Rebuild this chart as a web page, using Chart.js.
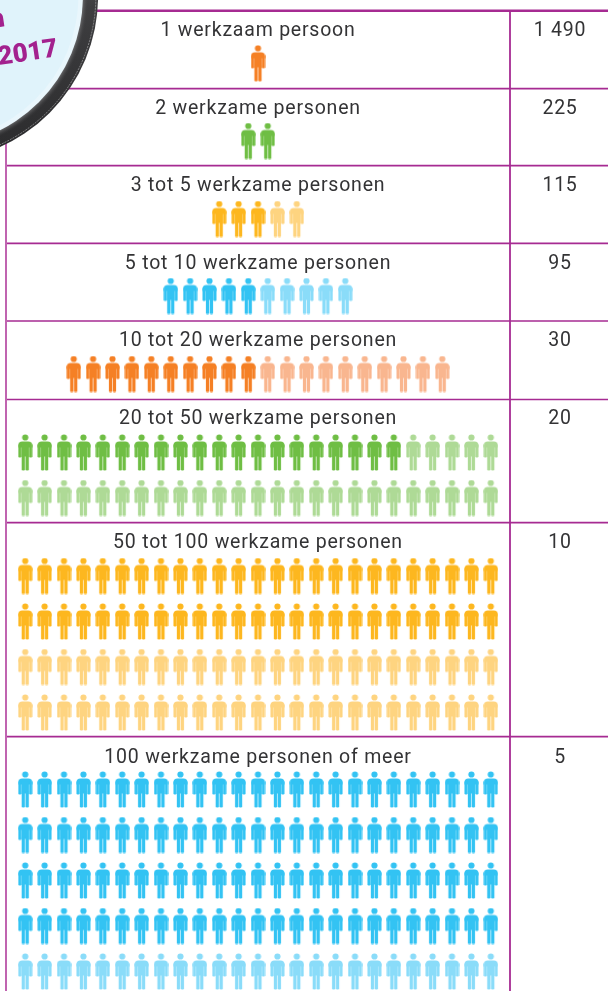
<!DOCTYPE html>
<html><head><meta charset="utf-8">
<style>html,body{margin:0;padding:0;background:#fff}canvas{display:block}</style>
<script src="https://cdn.jsdelivr.net/npm/chart.js@4"></script>
</head><body>
<canvas id="c" width="611" height="991"></canvas>
<script>
// ---- data ----
const categories = ["1 werkzaam persoon","2 werkzame personen","3 tot 5 werkzame personen","5 tot 10 werkzame personen","10 tot 20 werkzame personen","20 tot 50 werkzame personen","50 tot 100 werkzame personen","100 werkzame personen of meer"];
const companies = ["1 490","225","115","95","30","20","10","5"];
const darkIcons = [1,2,3,5,10,20,50,100];
const lightIcons = [0,0,2,5,10,30,50,25];
// ---- layout & style ----
const darkColors = ["#f58025","#6fbe44","#fdb71f","#33c3f3","#f58025","#6fbe44","#fdb71f","#33c3f3"];
const lightColors = ["#f9b68f","#aeda96","#fed480","#8adcf9","#f9b68f","#aeda96","#fed480","#8adcf9"];
const ruleY = [10.7,88.7,165.7,243.3,321,399.5,522.7,736.7];
const labelBase = [36,114,191,268.5,346,424,547.5,763];
const firstIconY = [63.3,141,219,296,374,452.5,576,789.5];
const pitchX = 19.4, pitchY = 45.5, perRow = 25, midX = 258, valueX = 560;
const W = 611, H = 991;

function personIcon(color){
  const c = document.createElement('canvas'); c.width = 15; c.height = 37;
  const g = c.getContext('2d'); g.fillStyle = color; g.translate(0.5,0.5);
  g.beginPath(); g.arc(7,3,3.1,0,Math.PI*2); g.fill();
  g.beginPath(); g.roundRect(0,7,14,6,[4,4,0,0]); g.fill();
  g.beginPath(); g.roundRect(0,10,3.2,13,[0,0,1.2,1.2]); g.fill();
  g.beginPath(); g.roundRect(10.8,10,3.2,13,[0,0,1.2,1.2]); g.fill();
  g.fillRect(3.4,10,7.2,12);
  g.beginPath(); g.roundRect(3.4,20,3.3,16,[0,0,1.3,1.3]); g.fill();
  g.beginPath(); g.roundRect(7.3,20,3.3,16,[0,0,1.3,1.3]); g.fill();
  return c;
}
function iconPoint(row,index,total){
  const inRow = Math.min(total,perRow);
  const r = Math.floor(index/perRow), col = index%perRow;
  return {x: midX+(col-(inRow-1)/2)*pitchX, y: firstIconY[row]+r*pitchY};
}
const datasets = [];
categories.forEach((_,row)=>{
  const total = darkIcons[row]+lightIcons[row];
  const dark=[], light=[];
  for(let i=0;i<total;i++) (i<darkIcons[row]?dark:light).push(iconPoint(row,i,total));
  datasets.push({label:categories[row],data:dark,pointStyle:personIcon(darkColors[row]),pointRadius:18,showLine:false,clip:false});
  if(light.length) datasets.push({label:categories[row]+" (licht)",data:light,pointStyle:personIcon(lightColors[row]),pointRadius:18,showLine:false,clip:false});
});

const tablePlugin = {
  id:'table',
  beforeDatasetsDraw(chart){
    const {ctx,scales:{x,y}} = chart;
    const rule='#a62b92';
    ctx.save();
    const h=(y0,x0,x1,lw)=>{ctx.strokeStyle=rule;ctx.lineWidth=lw;ctx.beginPath();ctx.moveTo(x.getPixelForValue(x0),y.getPixelForValue(y0));ctx.lineTo(x.getPixelForValue(x1),y.getPixelForValue(y0));ctx.stroke();};
    ruleY.forEach((v,i)=>h(v,5,608,i==0?2.6:1.7));
    ctx.strokeStyle='#c064b0';ctx.lineWidth=2;
    ctx.beginPath();ctx.moveTo(x.getPixelForValue(6),y.getPixelForValue(100));ctx.lineTo(x.getPixelForValue(6),y.getPixelForValue(H));ctx.stroke();
    ctx.strokeStyle=rule;ctx.lineWidth=1.8;
    ctx.beginPath();ctx.moveTo(x.getPixelForValue(510),y.getPixelForValue(10));ctx.lineTo(x.getPixelForValue(510),y.getPixelForValue(H));ctx.stroke();
    // text
    ctx.fillStyle='#333335';ctx.font='400 19.5px Roboto';ctx.textAlign='center';ctx.textBaseline='alphabetic';
    ctx.letterSpacing='0.78px';
    categories.forEach((t,i)=>{
      ctx.fillText(t,x.getPixelForValue(midX),y.getPixelForValue(labelBase[i]));
      ctx.fillText(companies[i],x.getPixelForValue(valueX),y.getPixelForValue(labelBase[i]));
    });
    ctx.letterSpacing='0px';
    // badge
    const cx=x.getPixelForValue(-67.6),cy=y.getPixelForValue(-4.2),R=165.7;
    let grad=ctx.createLinearGradient(cx+60,cy-40,cx+90,cy+150);
    grad.addColorStop(0,'#5c5c5e');grad.addColorStop(0.35,'#3e3e40');grad.addColorStop(1,'#2c2c2e');
    ctx.fillStyle=grad;ctx.beginPath();ctx.arc(cx,cy,R,0,Math.PI*2);ctx.fill();
    let rg=ctx.createRadialGradient(cx,cy,149,cx,cy,156);
    rg.addColorStop(0,'#7e7e80');rg.addColorStop(1,'rgba(60,60,62,0)');
    ctx.fillStyle=rg;ctx.beginPath();ctx.arc(cx,cy,157,0,Math.PI*2);ctx.fill();
    ctx.strokeStyle='#a9a9ab';ctx.lineWidth=0.7;ctx.setLineDash([2,1]);ctx.beginPath();ctx.arc(cx,cy,R-2.2,0,Math.PI*2);ctx.stroke();ctx.setLineDash([]);
    ctx.fillStyle='#e9f6fc';ctx.beginPath();ctx.arc(cx,cy,150.5,0,Math.PI*2);ctx.fill();
    ctx.fillStyle='#e0f3fb';ctx.beginPath();ctx.arc(cx,cy,146,0,Math.PI*2);ctx.fill();
    ctx.fillStyle='#a3218e';ctx.font='900 26px Roboto';ctx.textAlign='left';
    ctx.save();ctx.translate(x.getPixelForValue(-1),y.getPixelForValue(65));ctx.rotate(-8.5*Math.PI/180);
    ctx.fillText('2017',0,0);ctx.restore();
    ctx.save();ctx.translate(x.getPixelForValue(5.5),y.getPixelForValue(26));ctx.rotate(-8.5*Math.PI/180);
    ctx.textAlign='right';ctx.fillText('n',0,0);ctx.restore();
    ctx.restore();
  }
};

new Chart(document.getElementById('c'),{
  type:'scatter',
  data:{datasets},
  plugins:[tablePlugin],
  options:{
    responsive:false,animation:false,
    layout:{padding:0,autoPadding:false},
    plugins:{legend:{display:false},tooltip:{enabled:false}},
    scales:{
      x:{type:'linear',display:false,min:0,max:W},
      y:{type:'linear',display:false,min:0,max:H,reverse:true}
    }
  }
});
</script>
</body></html>
